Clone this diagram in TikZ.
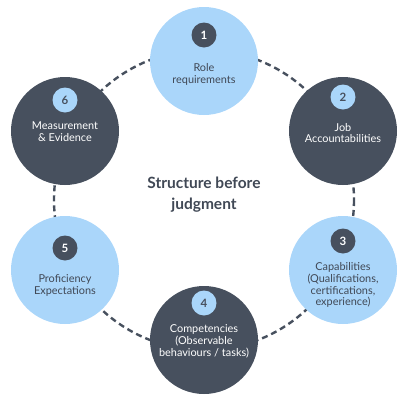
\documentclass[tikz,border=0pt]{standalone}
\usepackage{fontspec}
\setmainfont{Lato}
\usepackage{tikz}
\usetikzlibrary{positioning}
\definecolor{sky}{HTML}{AAD6FA}
\definecolor{slate}{HTML}{47505E}

\begin{document}
\begin{tikzpicture}[x=1pt,y=-1pt,
  ring/.style={draw=slate,line width=2.4pt,dash pattern=on 6pt off 4pt},
  lightc/.style={circle,fill=sky,minimum size=108pt,inner sep=0pt},
  darkc/.style={circle,fill=slate,minimum size=108pt,inner sep=0pt},
  badgedark/.style={circle,fill=slate,text=white,minimum size=25pt,inner sep=0pt,
                    font=\fontsize{11.5}{12}\selectfont\bfseries},
  badgelight/.style={circle,fill=sky,text=slate,minimum size=25pt,inner sep=0pt,
                     font=\fontsize{11.5}{12}\selectfont\bfseries},
  txtdark/.style={align=center,text=slate!90!black,font=\fontsize{10.9}{11.9}\selectfont},
  txtlight/.style={align=center,text=white,font=\fontsize{10.9}{11.9}\selectfont},
  title/.style={align=center,text=slate!90!black,font=\fontsize{15.5}{21}\selectfont\bfseries}]
  \useasboundingbox (0,0) rectangle (400,400);
  \coordinate (mid) at (204,200);
  \draw[ring] (mid) circle (150);
  % the six stages
  \node[lightc] (c1) at (204,61) {};
  \node[darkc] (c2) at (343,131) {};
  \node[lightc] (c3) at (343,270) {};
  \node[darkc] (c4) at (204,340) {};
  \node[lightc] (c5) at (65,270) {};
  \node[darkc] (c6) at (65,131) {};
  % numbers
  \node[badgedark] (n1) at (204,35) {1};
  \node[badgelight] (n2) at (343,97) {2};
  \node[badgedark] (n3) at (343,241) {3};
  \node[badgelight] (n4) at (204,303) {4};
  \node[badgedark] (n5) at (65,248) {5};
  \node[badgelight] (n6) at (65,100) {6};
  % labels
  \node[txtdark] (t1) at (204,74) {Role\\requirements};
  \node[txtlight] (t2) at (343,133) {Job\\Accountabilities};
  \node[txtdark] (t3) at (343,285) {Capabilities\\(Qualifications,\\certifications,\\experience)};
  \node[txtlight] (t4) at (204,341) {Competencies\\(Observable\\behaviours / tasks)};
  \node[txtdark] (t5) at (65,285) {Proficiency\\Expectations};
  \node[txtlight] (t6) at (65,132) {Measurement\\\& Evidence};
  \node[title] (head) at (204,195) {Structure before\\judgment};
\end{tikzpicture}
\end{document}
